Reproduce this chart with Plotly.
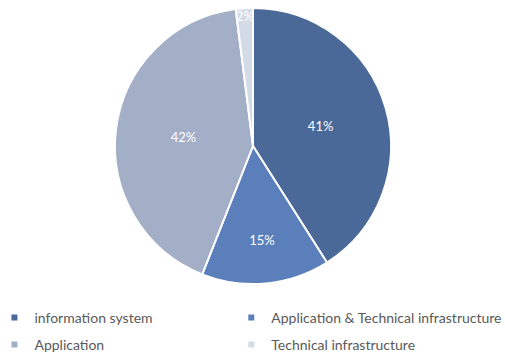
import plotly.graph_objects as go

categories = ["information system", "Application & Technical infrastructure",
              "Application", "Technical infrastructure"]
shares = [41, 15, 42, 2]
colors = ["#4a6999", "#5b7fbb", "#a3aec7", "#d3dbe7"]
legend_ids = ["legend", "legend2", "legend3", "legend4"]

W, H, B = 505, 353, 60
PH = H - B  # plot-area height above the legend band

fig = go.Figure()
fig.add_trace(go.Pie(
    labels=categories, values=shares, sort=False, direction="clockwise",
    rotation=0, marker=dict(colors=colors, line=dict(color="white", width=2)),
    texttemplate="%{percent:.0%}", textposition="inside",
    insidetextorientation="horizontal",
    textfont=dict(color="white", size=13, family="Lato"),
    domain=dict(x=[115/W, 391/W], y=[1-284/PH, 1-8/PH]),
    showlegend=False, hoverinfo="label+percent",
))

# one legend box per entry, laid out as a 2x2 grid under the pie
for name, col, lg in zip(categories, colors, legend_ids):
    fig.add_trace(go.Scatter(
        x=[None], y=[None], mode="markers", name=name, legend=lg,
        marker=dict(symbol="square", size=6, color=col),
    ))

legend_style = dict(orientation="h", xanchor="left", yanchor="middle",
                    itemwidth=30, font=dict(family="Lato", size=14, color="#595959"))
col_x = [-0.011, 0.458]
row_y = [(PH - 318) / PH, (PH - 345) / PH]

fig.update_layout(
    width=W, height=H,
    margin=dict(l=0, r=0, t=0, b=B, autoexpand=False),
    paper_bgcolor="white", plot_bgcolor="white",
    xaxis=dict(visible=False), yaxis=dict(visible=False),
    font=dict(family="Lato", size=13, color="#595959"),
    uniformtext=dict(minsize=13, mode="show"),
    legend=dict(x=col_x[0], y=row_y[0], **legend_style),
    legend2=dict(x=col_x[1], y=row_y[0], **legend_style),
    legend3=dict(x=col_x[0], y=row_y[1], **legend_style),
    legend4=dict(x=col_x[1], y=row_y[1], **legend_style),
)

fig.write_html("out.html")
